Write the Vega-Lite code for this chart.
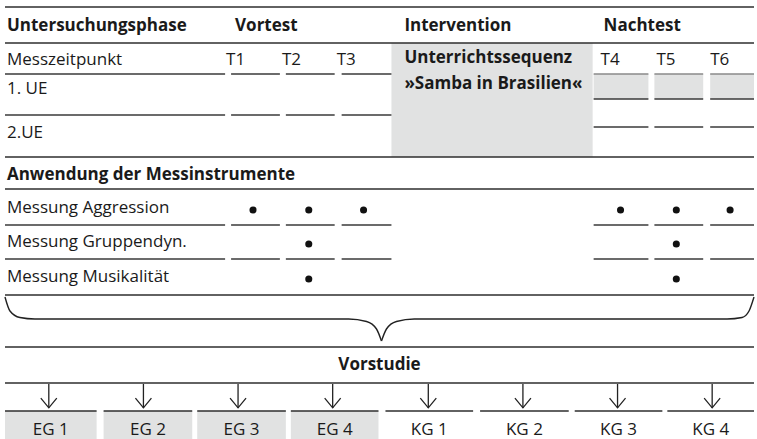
{
  "$schema": "https://vega.github.io/schema/vega-lite/v6.json",
  "width": 757,
  "height": 439,
  "autosize": {"type": "fit", "contains": "padding"},
  "padding": 0,
  "background": "white",
  "config": {"view": {"stroke": null}, "text": {"font": "Open Sans", "fontSize": 17, "color": "#1a1a1a"}},
  "datasets": {
    "boxes": [
      {"x": 393, "x2": 595, "y": 43, "y2": 157},
      {"x": 596, "x2": 651, "y": 74, "y2": 99},
      {"x": 657, "x2": 706, "y": 74, "y2": 99},
      {"x": 713, "x2": 757, "y": 74, "y2": 99},
      {"x": 5, "x2": 97, "y": 411, "y2": 439},
      {"x": 104, "x2": 193, "y": 411, "y2": 439},
      {"x": 198, "x2": 287, "y": 411, "y2": 439},
      {"x": 292, "x2": 380, "y": 411, "y2": 439}
    ],
    "lines": [
      {"x": 5, "x2": 757, "y": 7, "kind": "major"},
      {"x": 5, "x2": 757, "y": 43, "kind": "major"},
      {"x": 5, "x2": 757, "y": 157, "kind": "major"},
      {"x": 5, "x2": 757, "y": 189, "kind": "major"},
      {"x": 5, "x2": 757, "y": 295, "kind": "major"},
      {"x": 5, "x2": 757, "y": 347, "kind": "major"},
      {"x": 5, "x2": 757, "y": 383, "kind": "major"},
      {"x": 5, "x2": 226, "y": 74, "kind": "minor"},
      {"x": 232, "x2": 281, "y": 74, "kind": "minor"},
      {"x": 287, "x2": 336, "y": 74, "kind": "minor"},
      {"x": 343, "x2": 393, "y": 74, "kind": "minor"},
      {"x": 596, "x2": 651, "y": 74, "kind": "light"},
      {"x": 657, "x2": 706, "y": 74, "kind": "light"},
      {"x": 713, "x2": 757, "y": 74, "kind": "light"},
      {"x": 5, "x2": 226, "y": 115, "kind": "minor"},
      {"x": 232, "x2": 281, "y": 115, "kind": "minor"},
      {"x": 287, "x2": 336, "y": 115, "kind": "minor"},
      {"x": 343, "x2": 393, "y": 115, "kind": "minor"},
      {"x": 596, "x2": 651, "y": 99, "kind": "minor"},
      {"x": 657, "x2": 706, "y": 99, "kind": "minor"},
      {"x": 713, "x2": 757, "y": 99, "kind": "minor"},
      {"x": 596, "x2": 651, "y": 127, "kind": "minor"},
      {"x": 657, "x2": 706, "y": 127, "kind": "minor"},
      {"x": 713, "x2": 757, "y": 127, "kind": "minor"},
      {"x": 5, "x2": 226, "y": 225, "kind": "minor"},
      {"x": 232, "x2": 281, "y": 225, "kind": "minor"},
      {"x": 287, "x2": 336, "y": 225, "kind": "minor"},
      {"x": 343, "x2": 393, "y": 225, "kind": "minor"},
      {"x": 596, "x2": 651, "y": 225, "kind": "minor"},
      {"x": 657, "x2": 706, "y": 225, "kind": "minor"},
      {"x": 713, "x2": 757, "y": 225, "kind": "minor"},
      {"x": 5, "x2": 226, "y": 259, "kind": "minor"},
      {"x": 232, "x2": 281, "y": 259, "kind": "minor"},
      {"x": 287, "x2": 336, "y": 259, "kind": "minor"},
      {"x": 343, "x2": 393, "y": 259, "kind": "minor"},
      {"x": 596, "x2": 651, "y": 259, "kind": "minor"},
      {"x": 657, "x2": 706, "y": 259, "kind": "minor"},
      {"x": 713, "x2": 757, "y": 259, "kind": "minor"},
      {"x": 5, "x2": 97, "y": 411, "kind": "major"},
      {"x": 104, "x2": 193, "y": 411, "kind": "major"},
      {"x": 198, "x2": 287, "y": 411, "kind": "major"},
      {"x": 292, "x2": 380, "y": 411, "kind": "major"},
      {"x": 387, "x2": 475, "y": 411, "kind": "major"},
      {"x": 482, "x2": 571, "y": 411, "kind": "major"},
      {"x": 577, "x2": 665, "y": 411, "kind": "major"},
      {"x": 670, "x2": 757, "y": 411, "kind": "major"}
    ],
    "brace": [
      {"x": 5, "y": 297, "side": "left"},
      {"x": 10, "y": 311, "side": "left"},
      {"x": 20, "y": 317.5, "side": "left"},
      {"x": 35, "y": 319, "side": "left"},
      {"x": 350, "y": 319, "side": "left"},
      {"x": 368, "y": 321.5, "side": "left"},
      {"x": 378, "y": 329, "side": "left"},
      {"x": 383, "y": 341, "side": "left"},
      {"x": 383, "y": 341, "side": "right"},
      {"x": 388, "y": 329, "side": "right"},
      {"x": 398, "y": 321.5, "side": "right"},
      {"x": 416, "y": 319, "side": "right"},
      {"x": 730, "y": 319, "side": "right"},
      {"x": 745, "y": 317.5, "side": "right"},
      {"x": 752, "y": 311, "side": "right"},
      {"x": 757, "y": 297, "side": "right"}
    ],
    "arrows": [
      {"x": 49}, {"x": 144}, {"x": 239}, {"x": 334},
      {"x": 430}, {"x": 525}, {"x": 620}, {"x": 715}
    ],
    "dots": [
      {"x": 254, "y": 210}, {"x": 310, "y": 210}, {"x": 365, "y": 210},
      {"x": 623, "y": 210}, {"x": 679, "y": 210}, {"x": 733, "y": 210},
      {"x": 310, "y": 244}, {"x": 679, "y": 244},
      {"x": 310, "y": 279}, {"x": 679, "y": 279}
    ],
    "texts": [
      {"label": "Untersuchungsphase", "x": 7, "y": 31, "group": "boldLeft"},
      {"label": "Vortest", "x": 236, "y": 31, "group": "boldLeft"},
      {"label": "Intervention", "x": 406, "y": 31, "group": "boldLeft"},
      {"label": "Nachtest", "x": 606, "y": 31, "group": "boldLeft"},
      {"label": "Unterrichtssequenz", "x": 406, "y": 63, "group": "boldLeft"},
      {"label": "»Samba in Brasilien«", "x": 406, "y": 89, "group": "boldLeft"},
      {"label": "Anwendung der Messinstrumente", "x": 7, "y": 180, "group": "boldLeft"},
      {"label": "Vorstudie", "x": 381, "y": 370, "group": "boldCenter"},
      {"label": "Messzeitpunkt", "x": 7, "y": 65, "group": "left"},
      {"label": "T1", "x": 227, "y": 65, "group": "left"},
      {"label": "T2", "x": 283, "y": 65, "group": "left"},
      {"label": "T3", "x": 338, "y": 65, "group": "left"},
      {"label": "T4", "x": 603, "y": 65, "group": "left"},
      {"label": "T5", "x": 659, "y": 65, "group": "left"},
      {"label": "T6", "x": 713, "y": 65, "group": "left"},
      {"label": "1. UE", "x": 7, "y": 94, "group": "left"},
      {"label": "2.UE", "x": 7, "y": 138, "group": "left"},
      {"label": "Messung Aggression", "x": 7, "y": 213, "group": "left"},
      {"label": "Messung Gruppendyn.", "x": 7, "y": 247, "group": "left"},
      {"label": "Messung Musikalität", "x": 7, "y": 282, "group": "left"},
      {"label": "EG 1", "x": 51, "y": 435, "group": "center"},
      {"label": "EG 2", "x": 148.5, "y": 435, "group": "center"},
      {"label": "EG 3", "x": 242.5, "y": 435, "group": "center"},
      {"label": "EG 4", "x": 336, "y": 435, "group": "center"},
      {"label": "KG 1", "x": 431, "y": 435, "group": "center"},
      {"label": "KG 2", "x": 526.5, "y": 435, "group": "center"},
      {"label": "KG 3", "x": 621, "y": 435, "group": "center"},
      {"label": "KG 4", "x": 713.5, "y": 435, "group": "center"}
    ]
  },
  "layer": [
    {
      "data": {"name": "boxes"},
      "mark": {"type": "rect", "color": "#e1e2e2"},
      "encoding": {
        "x": {"field": "x", "type": "quantitative", "scale": {"domain": [0, 757], "nice": false, "zero": false}, "axis": null},
        "x2": {"field": "x2"},
        "y": {"field": "y", "type": "quantitative", "scale": {"domain": [0, 439], "nice": false, "zero": false, "reverse": true}, "axis": null},
        "y2": {"field": "y2"}
      }
    },
    {
      "data": {"name": "lines"},
      "transform": [{"filter": "datum.kind === 'major'"}],
      "mark": {"type": "rule", "color": "#2e2e2e", "strokeWidth": 1.6},
      "encoding": {
        "x": {"field": "x", "type": "quantitative"},
        "x2": {"field": "x2"},
        "y": {"field": "y", "type": "quantitative"}
      }
    },
    {
      "data": {"name": "lines"},
      "transform": [{"filter": "datum.kind === 'minor'"}],
      "mark": {"type": "rule", "color": "#3a3a3a", "strokeWidth": 1.3},
      "encoding": {
        "x": {"field": "x", "type": "quantitative"},
        "x2": {"field": "x2"},
        "y": {"field": "y", "type": "quantitative"}
      }
    },
    {
      "data": {"name": "lines"},
      "transform": [{"filter": "datum.kind === 'light'"}],
      "mark": {"type": "rule", "color": "#8a8a8a", "strokeWidth": 1.3},
      "encoding": {
        "x": {"field": "x", "type": "quantitative"},
        "x2": {"field": "x2"},
        "y": {"field": "y", "type": "quantitative"}
      }
    },
    {
      "data": {"name": "brace"},
      "mark": {"type": "line", "color": "#222222", "strokeWidth": 1.4, "interpolate": "monotone"},
      "encoding": {
        "x": {"field": "x", "type": "quantitative"},
        "y": {"field": "y", "type": "quantitative"},
        "detail": {"field": "side"}
      }
    },
    {
      "data": {"name": "arrows"},
      "mark": {"type": "rule", "color": "#222222", "strokeWidth": 1.3},
      "encoding": {
        "x": {"field": "x", "type": "quantitative"},
        "y": {"datum": 384},
        "y2": {"datum": 408}
      }
    },
    {
      "data": {"name": "arrows"},
      "mark": {"type": "point", "shape": "M-1,-0.6L0,0.6L1,-0.6", "filled": false, "color": "#222222", "strokeWidth": 1.3, "size": 256, "opacity": 1},
      "encoding": {
        "x": {"field": "x", "type": "quantitative"},
        "y": {"datum": 403}
      }
    },
    {
      "data": {"name": "dots"},
      "mark": {"type": "circle", "color": "#111111", "size": 50, "opacity": 1},
      "encoding": {
        "x": {"field": "x", "type": "quantitative"},
        "y": {"field": "y", "type": "quantitative"}
      }
    },
    {
      "data": {"name": "texts"},
      "transform": [{"filter": "datum.group === 'boldLeft'"}],
      "mark": {"type": "text", "align": "left", "baseline": "alphabetic", "fontWeight": "bold"},
      "encoding": {
        "x": {"field": "x", "type": "quantitative"},
        "y": {"field": "y", "type": "quantitative"},
        "text": {"field": "label"}
      }
    },
    {
      "data": {"name": "texts"},
      "transform": [{"filter": "datum.group === 'boldCenter'"}],
      "mark": {"type": "text", "align": "center", "baseline": "alphabetic", "fontWeight": "bold"},
      "encoding": {
        "x": {"field": "x", "type": "quantitative"},
        "y": {"field": "y", "type": "quantitative"},
        "text": {"field": "label"}
      }
    },
    {
      "data": {"name": "texts"},
      "transform": [{"filter": "datum.group === 'left'"}],
      "mark": {"type": "text", "align": "left", "baseline": "alphabetic"},
      "encoding": {
        "x": {"field": "x", "type": "quantitative"},
        "y": {"field": "y", "type": "quantitative"},
        "text": {"field": "label"}
      }
    },
    {
      "data": {"name": "texts"},
      "transform": [{"filter": "datum.group === 'center'"}],
      "mark": {"type": "text", "align": "center", "baseline": "alphabetic"},
      "encoding": {
        "x": {"field": "x", "type": "quantitative"},
        "y": {"field": "y", "type": "quantitative"},
        "text": {"field": "label"}
      }
    }
  ]
}
